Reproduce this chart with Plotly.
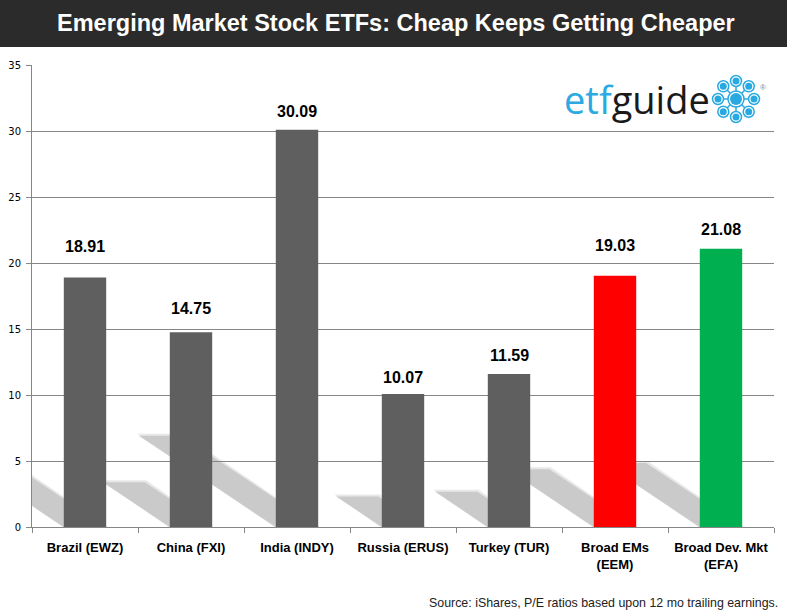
import math
import plotly.graph_objects as go

categories = ["Brazil (EWZ)", "China (FXI)", "India (INDY)", "Russia (ERUS)",
              "Turkey (TUR)", "Broad EMs<br>(EEM)", "Broad Dev. Mkt<br>(EFA)"]
pe_values = [18.91, 14.75, 30.09, 10.07, 11.59, 19.03, 21.08]
bar_colors = ["#5f5f5f", "#5f5f5f", "#5f5f5f", "#5f5f5f", "#5f5f5f", "#ff0000", "#00b050"]
y_ticks = [0, 5, 10, 15, 20, 25, 30, 35]
# pixel gap between bar top and the centre of its value label (style only)
label_gaps = [31, 24, 18, 17, 19, 30, 19]

title_text = "Emerging Market Stock ETFs: Cheap Keeps Getting Cheaper"
source_text = "Source: iShares, P/E ratios based upon 12 mo trailing earnings."

W, H = 787, 616
L, R, T, B = 32, 13, 65, 89
PW, PH = W - L - R, H - T - B


def px2x(px):
    return (px - L) / PW


def py2y(py):
    return (H - B - py) / PH


xs = list(range(len(categories)))
half = 0.2

fig = go.Figure()
fig.add_trace(go.Bar(
    x=xs, y=pe_values, width=2 * half,
    marker=dict(color=bar_colors, line=dict(width=0)),
    hoverinfo="skip",
))

shapes = []
# bar shadows (decorative), derived from values; two layers to soften edges
for i, v in enumerate(pe_values):
    dx = 0.043 * v
    dy = 0.23 * v
    x0, x1 = i - half, i + half
    for grow, col in ((0.012, "rgba(210,210,210,0.5)"), (0.0, "rgba(192,192,192,0.75)")):
        path = (f"M {x0 - grow},0 L {x1 + grow},0 L {x1 - dx + grow},{dy + 0.15 * grow / 0.012} "
                f"L {x0 - dx - grow},{dy + 0.15 * grow / 0.012} Z")
        shapes.append(dict(type="path", path=path, xref="x", yref="y",
                           fillcolor=col, line=dict(width=0), layer="below"))

# title bar
shapes.append(dict(type="rect", xref="paper", yref="paper",
                   x0=px2x(0), x1=px2x(W), y0=py2y(47), y1=py2y(0),
                   fillcolor="#2b2b2b", line=dict(width=0), layer="above"))

# logo icon
cx, cy = 736, 99
icon_blue = "#29a9e1"
for k in range(8):
    a = math.radians(90 - 45 * k)
    ox, oy = cx + 18 * math.cos(a), cy - 18 * math.sin(a)
    shapes.append(dict(type="line", xref="paper", yref="paper",
                       x0=px2x(cx), y0=py2y(cy), x1=px2x(ox), y1=py2y(oy),
                       line=dict(color=icon_blue, width=1.5), layer="above"))
for k in range(8):
    a = math.radians(90 - 45 * k)
    ox, oy = cx + 18 * math.cos(a), cy - 18 * math.sin(a)
    r = 5.5
    shapes.append(dict(type="circle", xref="paper", yref="paper",
                       x0=px2x(ox - r), x1=px2x(ox + r), y0=py2y(oy + r), y1=py2y(oy - r),
                       fillcolor="white", line=dict(color=icon_blue, width=1.5), layer="above"))
    r2 = 3.5
    shapes.append(dict(type="circle", xref="paper", yref="paper",
                       x0=px2x(ox - r2), x1=px2x(ox + r2), y0=py2y(oy + r2), y1=py2y(oy - r2),
                       fillcolor=icon_blue, line=dict(width=0), layer="above"))
rc = 8
shapes.append(dict(type="circle", xref="paper", yref="paper",
                   x0=px2x(cx - rc), x1=px2x(cx + rc), y0=py2y(cy + rc), y1=py2y(cy - rc),
                   fillcolor="white", line=dict(color=icon_blue, width=1.5), layer="above"))
rc2 = 6
shapes.append(dict(type="circle", xref="paper", yref="paper",
                   x0=px2x(cx - rc2), x1=px2x(cx + rc2), y0=py2y(cy + rc2), y1=py2y(cy - rc2),
                   fillcolor=icon_blue, line=dict(width=0), layer="above"))

annotations = []
for i, v in enumerate(pe_values):
    annotations.append(dict(x=i, y=v, xref="x", yref="y", text=f"<b>{v:.2f}</b>",
                            showarrow=False, yanchor="middle", yshift=label_gaps[i],
                            font=dict(family="Arial, Liberation Sans", size=16, color="#000")))

annotations.append(dict(x=px2x(396), y=py2y(23), xref="paper", yref="paper",
                        text=f"<b>{title_text}</b>", showarrow=False,
                        xanchor="center", yanchor="middle",
                        font=dict(family="Arial, Liberation Sans", size=23.5, color="white")))
annotations.append(dict(x=px2x(780), y=py2y(603), xref="paper", yref="paper",
                        text=source_text, showarrow=False, xanchor="right", yanchor="middle",
                        font=dict(family="Arial, Liberation Sans", size=12.4, color="#222")))
annotations.append(dict(x=px2x(562), y=py2y(99), xref="paper", yref="paper",
                        text="<span style='color:#2aa9e2'>etf</span>guide",
                        showarrow=False, xanchor="left", yanchor="middle",
                        font=dict(family="Open Sans, Lato, sans-serif", size=38, color="#1a1a1a")))
annotations.append(dict(x=px2x(763), y=py2y(87), xref="paper", yref="paper",
                        text="®", showarrow=False, xanchor="center", yanchor="middle",
                        font=dict(family="Arial", size=8, color="#888")))

fig.update_layout(
    width=W, height=H,
    margin=dict(l=L, r=R, t=T, b=B, pad=0, autoexpand=False),
    paper_bgcolor="white", plot_bgcolor="white",
    showlegend=False,
    shapes=shapes, annotations=annotations,
    bargap=0.6,
    xaxis=dict(
        range=[-0.5, len(categories) - 0.5],
        tickmode="array", tickvals=xs, ticktext=[f"<b>{c}</b>" for c in categories],
        ticks="", showgrid=False, zeroline=False, automargin=False,
        showline=True, linecolor="#868686", linewidth=1,
        tickfont=dict(family="Arial, Liberation Sans", size=13, color="#000"),
        ticklabelstandoff=8,
        minor=dict(tickmode="array", tickvals=[k - 0.5 for k in range(len(categories) + 1)],
                   ticks="outside", ticklen=5, tickcolor="#868686", showgrid=False),
        fixedrange=True,
    ),
    yaxis=dict(
        range=[0, 35], tickmode="array", tickvals=y_ticks, automargin=False,
        ticks="outside", ticklen=5, tickcolor="#868686",
        showgrid=True, gridcolor="#868686", gridwidth=1,
        zeroline=False, showline=True, linecolor="#868686", linewidth=1,
        tickfont=dict(family="DejaVu Sans, Verdana", size=10, color="#000"),
        ticklabelstandoff=3,
        fixedrange=True,
    ),
)

fig.write_html("out.html", config={"displayModeBar": False},
               post_script="document.body.style.margin='0';document.body.style.overflow='hidden';")
